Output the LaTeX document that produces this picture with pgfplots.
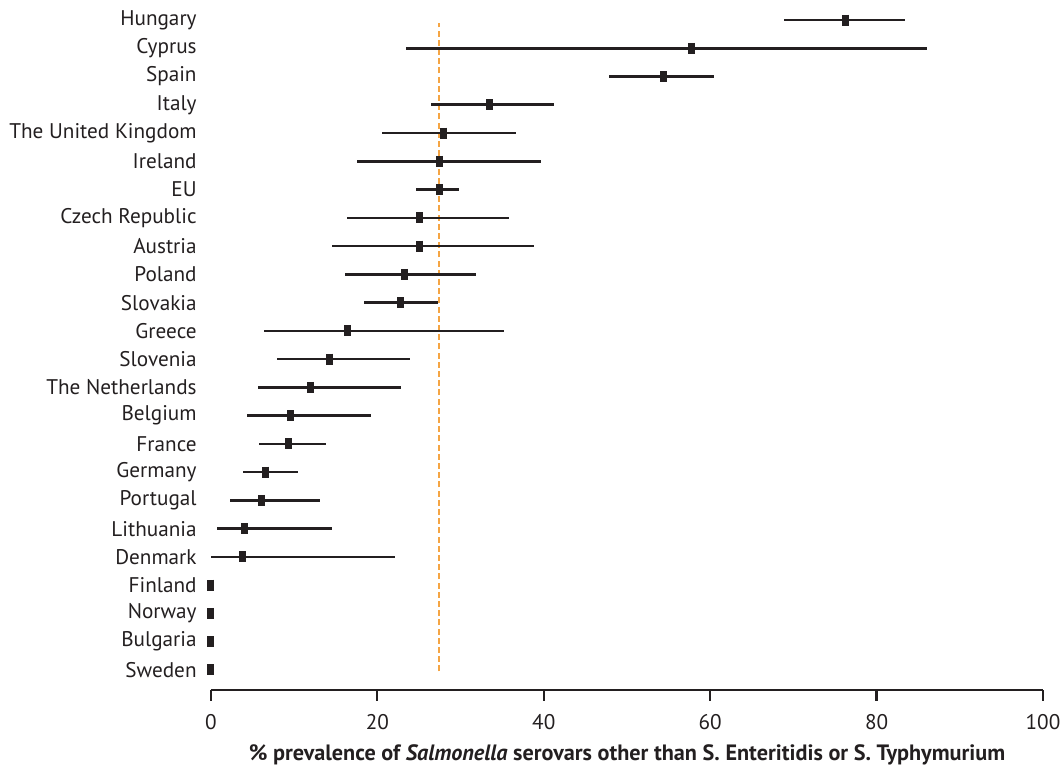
\documentclass[border=0pt]{standalone}
\usepackage{fontspec}
\setmainfont{PT Sans}
\usepackage{pgfplots}
\usepackage{pgfplotstable}
\pgfplotsset{compat=1.18}
\definecolor{ink}{HTML}{231F20}
\definecolor{eul}{HTML}{F5A544}
\pgfplotstableread{
y x lo hi
0 0 0 0
1 0 0 0
2 0 0 0
3 0 0 0
4 3.8 0.0 22.1
5 4.0 0.7 14.6
6 6.1 2.3 13.1
7 6.6 3.8 10.5
8 9.3 5.8 13.8
9 9.6 4.3 19.2
10 12.0 5.6 22.8
11 14.3 7.9 23.9
12 16.4 6.4 35.2
13 22.8 18.4 27.3
14 23.3 16.1 31.9
15 25.1 14.6 38.8
16 25.1 16.4 35.8
17 27.5 24.6 29.8
18 27.5 17.6 39.7
19 28.0 20.5 36.6
20 33.5 26.4 41.2
21 54.4 47.8 60.5
22 57.8 23.4 86.0
23 76.3 68.9 83.4
}\prev
\begin{document}
\fontsize{10.6pt}{12pt}\selectfont
\begin{tikzpicture}
\begin{axis}[
  scale only axis,
  width=416pt, height=345pt,
  xmin=0, xmax=100,
  ymin=-0.708, ymax=23.708,
  axis x line*=bottom,
  axis y line*=left,
  y axis line style={draw=none},
  x axis line style={line width=1.1pt, draw=ink, -},
  xtick={0,20,40,60,80,100},
  xtick align=outside,
  major tick length=5.5pt,
  xtick style={line width=1.1pt, draw=ink},
  ytick={0,...,23},
  ytick style={draw=none},
  yticklabels={Sweden,Bulgaria,Norway,Finland,Denmark,Lithuania,Portugal,Germany,France,Belgium,The Netherlands,Slovenia,Greece,Slovakia,Poland,Austria,Czech Republic,EU,Ireland,The United Kingdom,Italy,Spain,Cyprus,Hungary},
  yticklabel style={font=\fontsize{10.6pt}{12pt}\selectfont, text=ink, inner sep=0pt, xshift=-7pt},
  xticklabel style={font=\fontsize{10.6pt}{12pt}\selectfont, text=ink, inner sep=0pt, yshift=-6.5pt},
  /pgf/number format/assume math mode=true,
  xlabel={\textbf{\% prevalence of \textit{Salmonella} serovars other than S. Enteritidis or S. Typhymurium}},
  xlabel style={font=\fontsize{11.1pt}{12pt}\selectfont, text=ink, inner sep=0pt, at={(axis description cs:0.5,0)}, anchor=center, yshift=-32.5pt},
  clip=false,
]
\addplot[eul, line width=0.75pt, dash pattern=on 3pt off 1.6pt] coordinates {(27.4,-0.05) (27.4,22.9)};
\addplot[only marks, mark=|, mark size=2.75pt, mark options={line width=3.5pt, draw=ink},
  error bars/.cd, x dir=both, x explicit, error mark=none,
  error bar style={line width=1.3pt, draw=ink}]
  table[x=x, y=y, x error plus expr=\thisrow{hi}-\thisrow{x}, x error minus expr=\thisrow{x}-\thisrow{lo}] {\prev};
\end{axis}
\pgfresetboundingbox
\path[use as bounding box] ([shift={(-105.5pt,-43.5pt)}]current axis.south west) rectangle ([shift={(425.5pt,345pt)}]current axis.south west);
\end{tikzpicture}
\end{document}
